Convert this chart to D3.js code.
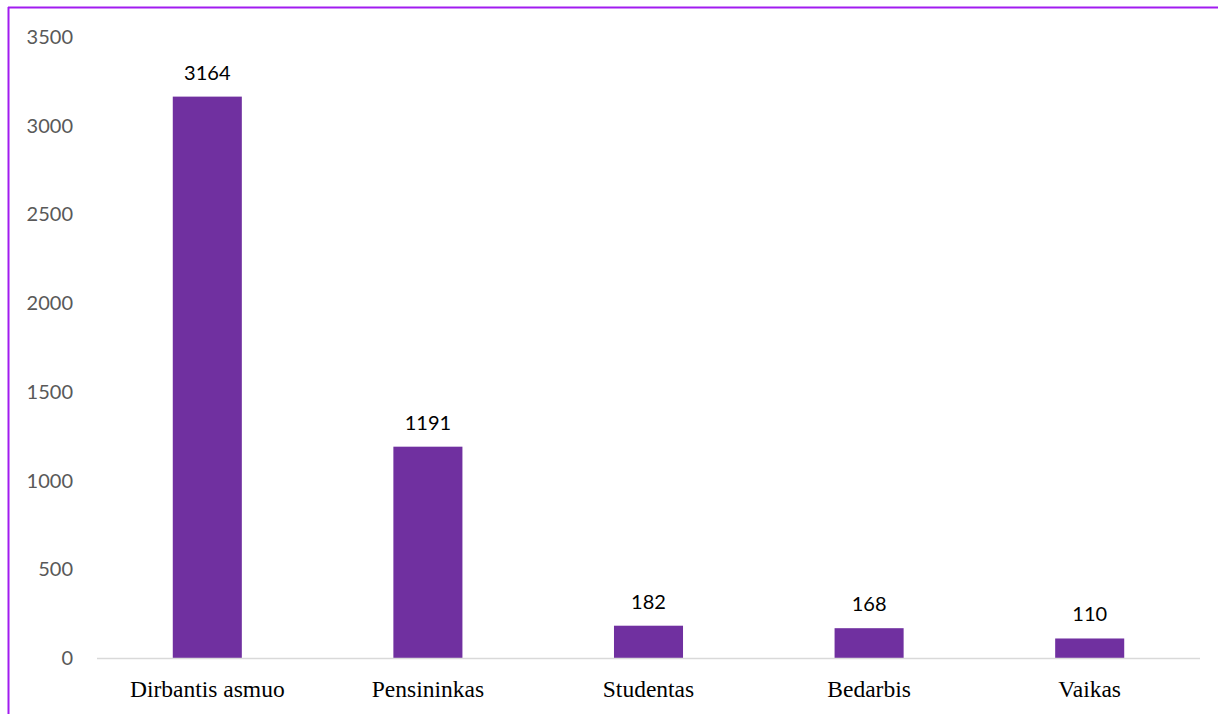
<!DOCTYPE html>
<html>
<head>
<meta charset="utf-8">
<script src="https://cdn.jsdelivr.net/npm/d3@7"></script>
<style>
  body { margin: 0; background: #fff; }
  svg { display: block; }
</style>
</head>
<body>
<svg id="chart" width="1218" height="714"></svg>
<script>
var categories = ['Dirbantis asmuo', 'Pensininkas', 'Studentas', 'Bedarbis', 'Vaikas'];
var values = [3164, 1191, 182, 168, 110];
var yTicks = [0, 500, 1000, 1500, 2000, 2500, 3000, 3500];

var svg = d3.select('#chart');
var width = 1218, height = 714;
var margin = {top: 37, right: 18, bottom: 56, left: 97};

// frame: only top and left edges are visible
svg.append('line')
    .attr('x1', 8).attr('x2', width).attr('y1', 7.5).attr('y2', 7.5)
    .attr('stroke', '#a11cf0').attr('stroke-width', 2);
svg.append('line')
    .attr('x1', 8.5).attr('x2', 8.5).attr('y1', 7).attr('y2', height)
    .attr('stroke', '#a11cf0').attr('stroke-width', 2);

var x = d3.scaleBand()
    .domain(categories)
    .range([margin.left, width - margin.right]);

var y = d3.scaleLinear()
    .domain([0, 3500])
    .range([height - margin.bottom, margin.top]);

var barW = x.step() * 0.313;

// y tick labels (no axis line)
svg.append('g')
    .selectAll('text')
    .data(yTicks)
    .enter()
    .append('text')
    .attr('x', 73)
    .attr('y', d => y(d))
    .attr('dy', '0.35em')
    .attr('text-anchor', 'end')
    .attr('fill', '#595959')
    .style('font-family', 'Lato, "Open Sans", sans-serif')
    .style('font-size', '20px')
    .text(d => d);

svg.selectAll('rect.bar')
    .data(values)
    .enter()
    .append('rect')
    .attr('class', 'bar')
    .attr('x', (d, i) => x(categories[i]) + x.bandwidth() / 2 - barW / 2)
    .attr('y', d => y(d))
    .attr('width', barW)
    .attr('height', d => y(0) - y(d))
    .attr('fill', '#7030a0');

// baseline
svg.append('line')
    .attr('x1', margin.left).attr('x2', width - margin.right)
    .attr('y1', y(0) + 0.5).attr('y2', y(0) + 0.5)
    .attr('stroke', '#d9d9d9').attr('stroke-width', 1.5);

// value labels
svg.selectAll('text.val')
    .data(values)
    .enter()
    .append('text')
    .attr('class', 'val')
    .attr('x', (d, i) => x(categories[i]) + x.bandwidth() / 2)
    .attr('y', d => y(d) - 17)
    .attr('text-anchor', 'middle')
    .attr('fill', '#000')
    .style('font-family', 'Lato, "Open Sans", sans-serif')
    .style('font-size', '20px')
    .text(d => d);

// category labels
svg.selectAll('text.cat')
    .data(categories)
    .enter()
    .append('text')
    .attr('class', 'cat')
    .attr('x', d => x(d) + x.bandwidth() / 2)
    .attr('y', y(0) + 39)
    .attr('text-anchor', 'middle')
    .attr('fill', '#000')
    .style('font-family', '"Liberation Serif", "Times New Roman", serif')
    .style('font-size', '23.5px')
    .text(d => d);
</script>
</body>
</html>
